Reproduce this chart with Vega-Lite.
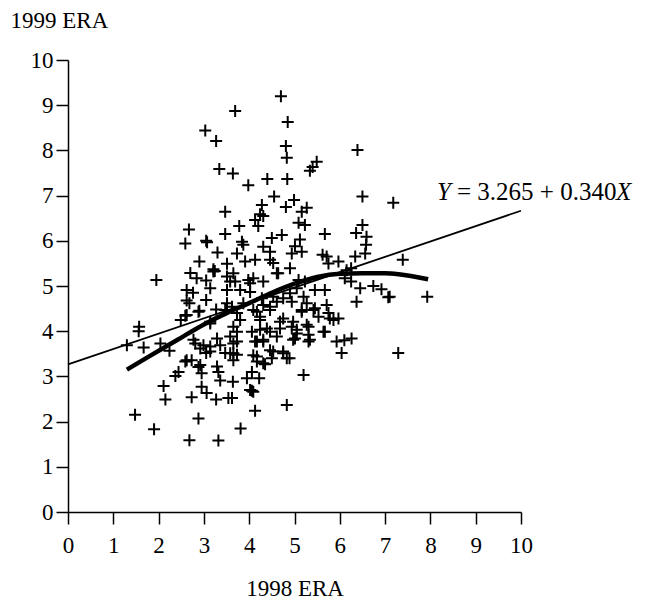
{
  "$schema": "https://vega.github.io/schema/vega-lite/v6.json",
  "width": 453,
  "height": 452,
  "autosize": {"type": "none"},
  "padding": {"left": 68, "top": 60, "right": 129, "bottom": 89},
  "background": "white",
  "config": {"view": {"stroke": null}, "font": "Liberation Serif"},
  "datasets": {
    "pts": [
      {"x":4.70,"y":9.20},{"x":3.69,"y":8.87},{"x":4.85,"y":8.63},{"x":3.03,"y":8.44},{"x":3.27,"y":8.21},{"x":4.81,"y":8.10},{"x":6.39,"y":8.01},{"x":4.83,"y":7.84},{"x":5.49,"y":7.75},{"x":5.40,"y":7.63},{"x":5.34,"y":7.55},{"x":3.34,"y":7.59},{"x":3.64,"y":7.49},{"x":4.40,"y":7.37},{"x":4.84,"y":7.37},{"x":3.98,"y":7.23},{"x":4.55,"y":6.98},{"x":6.50,"y":6.98},{"x":4.99,"y":6.90},{"x":7.18,"y":6.84},{"x":4.28,"y":6.79},{"x":4.81,"y":6.75},{"x":5.27,"y":6.73},{"x":3.47,"y":6.64},{"x":4.24,"y":6.59},{"x":4.31,"y":6.55},{"x":5.16,"y":6.64},{"x":6.50,"y":6.35},{"x":3.78,"y":6.33},{"x":4.13,"y":6.46},{"x":4.20,"y":6.33},{"x":5.09,"y":6.40},{"x":5.23,"y":6.35},{"x":2.67,"y":6.25},{"x":3.47,"y":6.15},{"x":6.36,"y":6.17},{"x":5.67,"y":6.15},{"x":4.50,"y":6.06},{"x":4.72,"y":6.13},{"x":5.12,"y":6.03},{"x":6.59,"y":6.09},{"x":2.59,"y":5.94},{"x":3.05,"y":6.00},{"x":3.07,"y":5.97},{"x":3.84,"y":5.98},{"x":3.87,"y":5.91},{"x":6.58,"y":5.91},{"x":3.30,"y":5.74},{"x":3.73,"y":5.72},{"x":4.31,"y":5.87},{"x":4.46,"y":5.76},{"x":4.94,"y":5.72},{"x":5.01,"y":5.88},{"x":5.16,"y":5.76},{"x":5.62,"y":5.69},{"x":5.71,"y":5.65},{"x":6.56,"y":5.72},{"x":6.34,"y":5.65},{"x":2.90,"y":5.54},{"x":3.51,"y":5.49},{"x":3.91,"y":5.54},{"x":4.13,"y":5.58},{"x":4.46,"y":5.58},{"x":4.53,"y":5.51},{"x":5.75,"y":5.50},{"x":5.97,"y":5.54},{"x":7.39,"y":5.58},{"x":3.21,"y":5.37},{"x":3.24,"y":5.33},{"x":4.90,"y":5.39},{"x":6.15,"y":5.35},{"x":6.25,"y":5.39},{"x":1.95,"y":5.13},{"x":2.70,"y":5.29},{"x":2.84,"y":5.17},{"x":3.05,"y":5.12},{"x":3.51,"y":5.21},{"x":3.65,"y":5.28},{"x":4.64,"y":5.28},{"x":3.98,"y":5.13},{"x":4.09,"y":5.17},{"x":4.31,"y":5.10},{"x":3.69,"y":5.10},{"x":6.11,"y":5.17},{"x":5.09,"y":5.13},{"x":5.23,"y":5.10},{"x":6.25,"y":5.10},{"x":3.21,"y":5.32},{"x":3.58,"y":5.10},{"x":4.02,"y":5.06},{"x":4.61,"y":5.28},{"x":3.14,"y":4.95},{"x":2.62,"y":4.91},{"x":2.76,"y":4.85},{"x":3.51,"y":4.91},{"x":3.80,"y":4.91},{"x":4.02,"y":4.87},{"x":5.45,"y":4.91},{"x":5.67,"y":4.91},{"x":5.05,"y":4.95},{"x":4.90,"y":4.84},{"x":6.45,"y":4.95},{"x":6.74,"y":5.00},{"x":6.92,"y":4.93},{"x":7.07,"y":4.75},{"x":7.10,"y":4.76},{"x":7.93,"y":4.76},{"x":6.37,"y":4.65},{"x":4.53,"y":4.76},{"x":4.75,"y":4.73},{"x":4.94,"y":4.65},{"x":4.28,"y":4.73},{"x":2.62,"y":4.68},{"x":2.68,"y":4.62},{"x":3.05,"y":4.69},{"x":3.51,"y":4.62},{"x":3.87,"y":4.62},{"x":4.31,"y":4.58},{"x":4.61,"y":4.65},{"x":5.20,"y":4.76},{"x":5.27,"y":4.62},{"x":4.46,"y":4.54},{"x":3.62,"y":4.54},{"x":4.09,"y":4.47},{"x":5.45,"y":4.51},{"x":5.71,"y":4.58},{"x":5.16,"y":4.47},{"x":2.90,"y":4.45},{"x":3.27,"y":4.48},{"x":3.47,"y":4.47},{"x":2.88,"y":4.43},{"x":3.73,"y":4.40},{"x":4.17,"y":4.43},{"x":4.46,"y":4.47},{"x":5.16,"y":4.43},{"x":5.42,"y":4.47},{"x":5.75,"y":4.40},{"x":2.59,"y":4.34},{"x":2.62,"y":4.36},{"x":2.49,"y":4.25},{"x":3.14,"y":4.17},{"x":4.75,"y":4.28},{"x":5.53,"y":4.32},{"x":5.78,"y":4.28},{"x":5.97,"y":4.28},{"x":3.80,"y":4.25},{"x":4.24,"y":4.32},{"x":3.14,"y":4.21},{"x":4.24,"y":4.25},{"x":4.68,"y":4.21},{"x":4.97,"y":4.21},{"x":5.27,"y":4.14},{"x":5.86,"y":4.25},{"x":1.57,"y":4.10},{"x":1.56,"y":4.00},{"x":3.65,"y":4.10},{"x":4.39,"y":4.06},{"x":4.68,"y":4.06},{"x":4.94,"y":4.10},{"x":5.64,"y":3.99},{"x":4.06,"y":3.99},{"x":5.31,"y":3.92},{"x":5.05,"y":3.95},{"x":3.73,"y":3.99},{"x":4.24,"y":4.03},{"x":4.46,"y":3.99},{"x":5.05,"y":4.03},{"x":5.31,"y":4.10},{"x":5.67,"y":3.99},{"x":6.26,"y":3.84},{"x":6.10,"y":3.80},
      {"x":1.30,"y":3.69},{"x":1.67,"y":3.64},{"x":2.04,"y":3.73},{"x":2.24,"y":3.57},{"x":2.81,"y":3.73},{"x":2.99,"y":3.69},{"x":3.14,"y":3.66},{"x":3.36,"y":3.69},{"x":3.47,"y":3.52},{"x":3.05,"y":3.52},{"x":2.77,"y":3.81},{"x":3.29,"y":3.84},{"x":3.58,"y":3.88},{"x":4.17,"y":3.77},{"x":4.31,"y":3.81},{"x":4.61,"y":3.88},{"x":5.01,"y":3.84},{"x":5.34,"y":3.81},{"x":5.93,"y":3.77},{"x":2.92,"y":3.62},{"x":3.65,"y":3.73},{"x":3.14,"y":3.55},{"x":3.58,"y":3.51},{"x":4.17,"y":3.44},{"x":4.46,"y":3.58},{"x":4.75,"y":3.55},{"x":4.83,"y":3.40},{"x":2.62,"y":3.36},{"x":2.92,"y":3.25},{"x":3.29,"y":3.22},{"x":4.31,"y":3.29},{"x":3.65,"y":3.36},{"x":2.59,"y":3.33},{"x":2.73,"y":3.36},{"x":2.88,"y":3.21},{"x":2.95,"y":3.07},{"x":2.44,"y":3.10},{"x":2.37,"y":3.01},{"x":3.32,"y":3.10},{"x":3.36,"y":2.91},{"x":2.11,"y":2.79},{"x":2.95,"y":2.77},{"x":3.06,"y":2.63},{"x":2.15,"y":2.49},{"x":2.73,"y":2.54},{"x":3.27,"y":2.49},{"x":1.48,"y":2.15},{"x":2.88,"y":2.07},{"x":1.90,"y":1.83},{"x":2.68,"y":1.59},{"x":3.32,"y":1.58},{"x":3.54,"y":2.52},{"x":3.73,"y":3.77},{"x":3.65,"y":3.51},{"x":3.73,"y":3.48},{"x":4.13,"y":3.77},{"x":4.31,"y":3.77},{"x":4.53,"y":3.55},{"x":4.75,"y":3.51},{"x":4.89,"y":3.40},{"x":4.97,"y":3.81},{"x":5.31,"y":3.77},{"x":6.04,"y":3.52},{"x":4.09,"y":3.47},{"x":4.17,"y":3.33},{"x":4.35,"y":3.27},{"x":4.50,"y":3.40},{"x":4.06,"y":3.10},{"x":3.95,"y":2.96},{"x":4.22,"y":2.96},{"x":5.20,"y":3.03},{"x":3.64,"y":2.88},{"x":4.06,"y":2.68},{"x":4.09,"y":2.66},{"x":4.02,"y":2.70},{"x":3.62,"y":2.52},{"x":4.83,"y":2.37},{"x":4.13,"y":2.24},{"x":3.81,"y":1.85},{"x":7.29,"y":3.52}
    ],
    "fit": [{"x": 0, "y": 3.265}, {"x": 10, "y": 6.665}],
    "loess": [
      {"x":1.3,"y":3.15},{"x":1.8,"y":3.45},{"x":2.4,"y":3.8},{"x":3.0,"y":4.15},{"x":3.5,"y":4.4},{"x":4.0,"y":4.62},{"x":4.5,"y":4.85},{"x":5.0,"y":5.05},{"x":5.5,"y":5.2},{"x":6.0,"y":5.27},{"x":6.5,"y":5.28},{"x":7.0,"y":5.28},{"x":7.3,"y":5.26},{"x":7.95,"y":5.15}
    ],
    "eq": [{"x": 8.146, "y": 6.9}]
  },
  "layer": [
    {
      "data": {"name": "pts"},
      "mark": {"type": "point", "shape": "M-1,0H1M0,-1V1", "size": 144, "stroke": "black", "strokeWidth": 2, "filled": false, "opacity": 1},
      "encoding": {
        "x": {"field": "x", "type": "quantitative", "scale": {"domain": [0, 10], "nice": false},
          "axis": {"values": [0,0.5,1,1.5,2,2.5,3,3.5,4,4.5,5,5.5,6,6.5,7,7.5,8,8.5,9,9.5,10],
            "labelExpr": "datum.value % 1 === 0 ? datum.label : ''",
            "tickSize": {"condition": {"test": "datum.value % 1 === 0", "value": 12}, "value": 6},
            "domainColor": "black", "domainWidth": 1.5, "tickColor": "black", "tickWidth": 1.5,
            "labelFontSize": 23, "labelColor": "black", "labelFont": "Liberation Serif", "labelPadding": 10,
            "labelFlush": false, "labelOverlap": false, "grid": false,
            "title": "1998 ERA", "titleFont": "Liberation Serif", "titleFontSize": 23, "titleFontWeight": "normal", "titleColor": "black", "titlePadding": 20}},
        "y": {"field": "y", "type": "quantitative", "scale": {"domain": [0, 10], "nice": false},
          "axis": {"values": [0,0.5,1,1.5,2,2.5,3,3.5,4,4.5,5,5.5,6,6.5,7,7.5,8,8.5,9,9.5,10],
            "labelExpr": "datum.value % 1 === 0 ? datum.label : ''",
            "tickSize": {"condition": {"test": "datum.value % 1 === 0", "value": 12}, "value": 6},
            "domainColor": "black", "domainWidth": 1.5, "tickColor": "black", "tickWidth": 1.5,
            "labelFontSize": 23, "labelColor": "black", "labelFont": "Liberation Serif", "labelPadding": 3,
            "labelFlush": false, "labelOverlap": false, "grid": false,
            "title": "1999 ERA", "titleFont": "Liberation Serif", "titleFontSize": 23, "titleFontWeight": "normal", "titleColor": "black",
            "titleAngle": 0, "titleAlign": "left", "titleBaseline": "alphabetic", "titleX": -58, "titleY": -33}}
      }
    },
    {
      "data": {"name": "fit"},
      "mark": {"type": "line", "color": "black", "strokeWidth": 1.8},
      "encoding": {"x": {"field": "x", "type": "quantitative"}, "y": {"field": "y", "type": "quantitative"}}
    },
    {
      "data": {"name": "loess"},
      "mark": {"type": "line", "color": "black", "strokeWidth": 4.5, "interpolate": "monotone"},
      "encoding": {"x": {"field": "x", "type": "quantitative"}, "y": {"field": "y", "type": "quantitative"}}
    },
    {
      "data": {"name": "eq"},
      "mark": {"type": "text", "text": "Y", "font": "Liberation Serif", "fontStyle": "italic", "fontSize": 25, "align": "left", "baseline": "alphabetic", "color": "black"},
      "encoding": {"x": {"field": "x", "type": "quantitative"}, "y": {"field": "y", "type": "quantitative"}}
    },
    {
      "data": {"name": "eq"},
      "mark": {"type": "text", "text": "= 3.265 + 0.340", "font": "Liberation Serif", "fontSize": 25, "align": "left", "baseline": "alphabetic", "color": "black", "dx": 20},
      "encoding": {"x": {"field": "x", "type": "quantitative"}, "y": {"field": "y", "type": "quantitative"}}
    },
    {
      "data": {"name": "eq"},
      "mark": {"type": "text", "text": "X", "font": "Liberation Serif", "fontStyle": "italic", "fontSize": 25, "align": "left", "baseline": "alphabetic", "color": "black", "dx": 179},
      "encoding": {"x": {"field": "x", "type": "quantitative"}, "y": {"field": "y", "type": "quantitative"}}
    }
  ]
}
